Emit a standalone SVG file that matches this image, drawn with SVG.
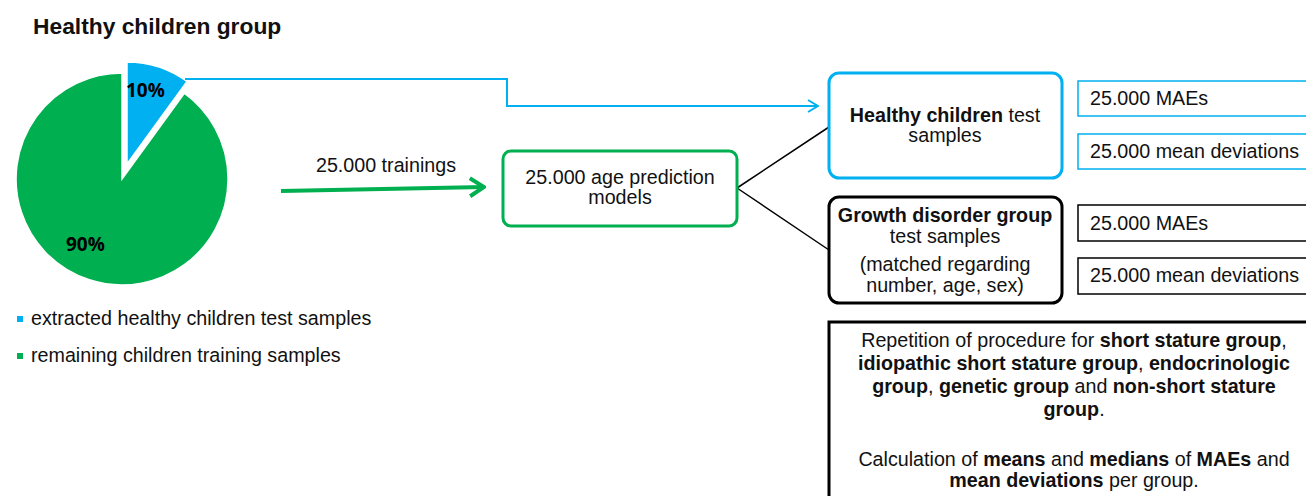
<svg xmlns="http://www.w3.org/2000/svg" width="1306" height="496" viewBox="0 0 1306 496">
<style>
text{font-family:"Liberation Sans",Arial,sans-serif;fill:#111;}
.t{font-size:19.7px;}
.c{text-anchor:middle;}
.b{font-weight:bold;}
.pct{font-family:"Open Sans","Liberation Sans",sans-serif;font-size:19px;font-weight:bold;fill:#000;}
.box{fill:#fff;stroke-width:3;}
</style>
<defs>
<marker id="ab" viewBox="0 0 12 14" refX="11" refY="7" markerWidth="12" markerHeight="14" markerUnits="userSpaceOnUse" orient="auto">
<path d="M1,1 L11,7 L1,13" fill="none" stroke="#00b0f0" stroke-width="2"/>
</marker>
<marker id="ag" viewBox="0 0 18 22" refX="16" refY="11" markerWidth="18" markerHeight="22" markerUnits="userSpaceOnUse" orient="auto">
<path d="M2,2 L16,11 L2,20" fill="none" stroke="#00b050" stroke-width="4"/>
</marker>
</defs>
<rect width="1306" height="496" fill="#fff"/>
<text x="33" y="34" class="b" font-size="22.8">Healthy children group</text>
<g id="pie">
<path d="M122,179 L184.3,93.2 A106,106 0 1 1 122,73 Z" fill="#00b050" stroke="#fff" stroke-width="1.5"/>
<path d="M127,164 L127,62 A102,102 0 0 1 187,81.5 Z" fill="#00b0f0" stroke="#fff" stroke-width="1.5"/>
<text x="126" y="97" class="pct">10%</text>
<text x="66" y="251" class="pct">90%</text>
</g>
<g id="legend">
<rect x="17" y="316" width="6" height="6" fill="#00b0f0"/>
<text x="31" y="325" class="t">extracted healthy children test samples</text>
<rect x="17" y="353" width="6" height="6" fill="#00b050"/>
<text x="31" y="362" class="t">remaining children training samples</text>
</g>
<g id="connectors" fill="none">
<path d="M185,79 H507 V106 H818" stroke="#00b0f0" stroke-width="2" marker-end="url(#ab)"/>
<path d="M281,191 L484,187" stroke="#00b050" stroke-width="4" marker-end="url(#ag)"/>
<text x="386" y="172" class="t c">25.000 trainings</text>
<path d="M737,188 L829,127 M737,188 L829,250" stroke="#000" stroke-width="1.5"/>
</g>
<g id="models">
<rect x="503" y="151" width="234" height="75" rx="8" class="box" stroke="#00b050"/>
<text x="620" y="184" class="t c">25.000 age prediction</text>
<text x="620" y="204" class="t c">models</text>
</g>
<g id="healthy-test">
<rect x="829" y="73" width="233" height="105" rx="10" class="box" stroke="#00b0f0"/>
<text x="945" y="122" class="t c"><tspan class="b">Healthy children</tspan> test</text>
<text x="945" y="142" class="t c">samples</text>
</g>
<g id="healthy-mae">
<rect x="1078" y="81" width="240" height="35" fill="#fff" stroke="#00b0f0" stroke-width="1.5"/>
<text x="1090" y="105" class="t">25.000 MAEs</text>
</g>
<g id="healthy-md">
<rect x="1078" y="134" width="240" height="35" fill="#fff" stroke="#00b0f0" stroke-width="1.5"/>
<text x="1090" y="158" class="t">25.000 mean deviations</text>
</g>
<g id="growth-test">
<rect x="829" y="197" width="233" height="106" rx="10" class="box" stroke="#000"/>
<text x="945" y="222" class="t c b">Growth disorder group</text>
<text x="945" y="243" class="t c">test samples</text>
<text x="945" y="271" class="t c">(matched regarding</text>
<text x="945" y="292" class="t c">number, age, sex)</text>
</g>
<g id="growth-mae">
<rect x="1078" y="205" width="240" height="36" fill="#fff" stroke="#000" stroke-width="1.5"/>
<text x="1090" y="230" class="t">25.000 MAEs</text>
</g>
<g id="growth-md">
<rect x="1078" y="258" width="240" height="36" fill="#fff" stroke="#000" stroke-width="1.5"/>
<text x="1090" y="282" class="t">25.000 mean deviations</text>
</g>
<g id="repetition">
<rect x="829" y="322" width="500" height="200" fill="#fff" stroke="#000" stroke-width="3"/>
<text x="1074" y="347" class="t c">Repetition of procedure for <tspan class="b">short stature group</tspan>,</text>
<text x="1074" y="370" class="t c"><tspan class="b">idiopathic short stature group</tspan>, <tspan class="b">endocrinologic</tspan></text>
<text x="1074" y="393" class="t c"><tspan class="b">group</tspan>, <tspan class="b">genetic group</tspan> and <tspan class="b">non-short stature</tspan></text>
<text x="1074" y="416" class="t c"><tspan class="b">group</tspan>.</text>
<text x="1074" y="466" class="t c">Calculation of <tspan class="b">means</tspan> and <tspan class="b">medians</tspan> of <tspan class="b">MAEs</tspan> and</text>
<text x="1074" y="487" class="t c"><tspan class="b">mean deviations</tspan> per group.</text>
</g>
</svg>
